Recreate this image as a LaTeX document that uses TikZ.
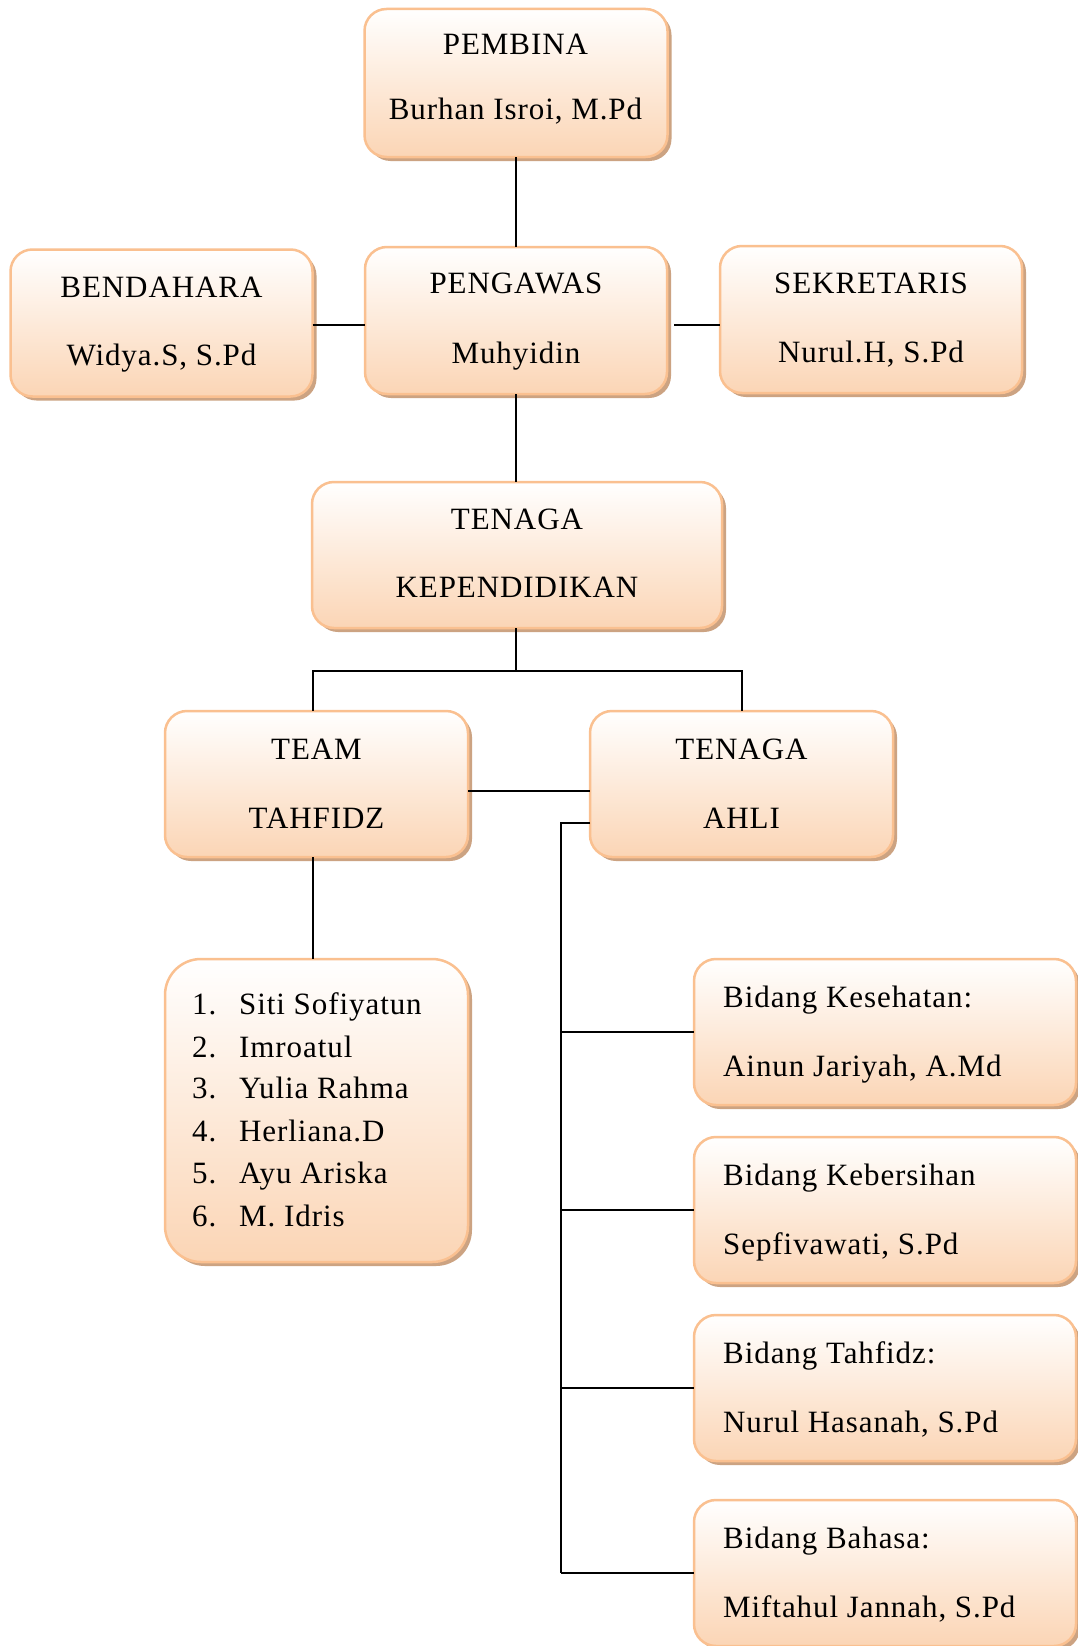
\documentclass[tikz,border=0pt]{standalone}
\usepackage{fontspec}
\setmainfont{Liberation Serif}[LetterSpace=3]
\usetikzlibrary{shadows}
\definecolor{peach}{RGB}{251,213,181}
\definecolor{bord}{RGB}{250,192,144}
\definecolor{shad}{RGB}{204,163,130}
\tikzset{
  orgbox/.style={draw=bord, line width=2.5pt, rounded corners=22pt,
    top color=white, bottom color=peach, inner sep=0pt, outer sep=0pt,
    minimum width=302pt, minimum height=147pt,
    drop shadow={shadow xshift=4pt, shadow yshift=-4pt, fill=shad, opacity=1}},
  txt/.style={inner sep=0pt, font=\fontsize{31}{36}\selectfont, anchor=base},
  ltxt/.style={txt, anchor=base west},
  conn/.style={line width=2pt, black}
}
\begin{document}
\begin{tikzpicture}[x=1pt, y=-1pt]
\useasboundingbox[fill=white] (0,0) rectangle (1078,1646);

% boxes
\node[orgbox, minimum width=303pt, minimum height=148pt] (pembina) at (516,83) {};
\node[orgbox] (pengawas) at (516,320.5) {};
\node[orgbox] (bendahara) at (161.5,323) {};
\node[orgbox] (sekretaris) at (871,319.5) {};
\node[orgbox, minimum width=410pt, minimum height=146pt] (tk) at (517,555) {};
\node[orgbox, minimum width=303pt, minimum height=146pt] (team) at (316.5,784) {};
\node[orgbox, minimum width=303pt, minimum height=146pt] (ahli) at (741.5,784) {};
\node[orgbox, minimum width=303pt, minimum height=303pt, rounded corners=36pt] (list) at (316.5,1110.5) {};
\node[orgbox, minimum width=382pt, minimum height=146pt] (b1) at (885,1032) {};
\node[orgbox, minimum width=382pt, minimum height=146pt] (b2) at (885,1210) {};
\node[orgbox, minimum width=382pt, minimum height=146pt] (b3) at (885,1388) {};
\node[orgbox, minimum width=382pt, minimum height=146pt] (b4) at (885,1573) {};

% texts
\node[txt] (t-pembina1) at (515.5,55) {PEMBINA};
\node[txt] (t-pembina2) at (515.5,119) {Burhan Isroi, M.Pd};
\node[txt] (t-pengawas1) at (516,293) {PENGAWAS};
\node[txt] (t-pengawas2) at (516,363) {Muhyidin};
\node[txt] (t-bendahara1) at (161.5,297) {BENDAHARA};
\node[txt] (t-bendahara2) at (161.5,365) {Widya.S, S.Pd};
\node[txt] (t-sekretaris1) at (871,293) {SEKRETARIS};
\node[txt] (t-sekretaris2) at (871,362) {Nurul.H, S.Pd};
\node[txt] (t-tk1) at (517,529) {TENAGA};
\node[txt] (t-tk2) at (517,597) {KEPENDIDIKAN};
\node[txt] (t-team1) at (316.5,759) {TEAM};
\node[txt] (t-team2) at (316.5,828) {TAHFIDZ};
\node[txt] (t-ahli1) at (741.5,759) {TENAGA};
\node[txt] (t-ahli2) at (741.5,828) {AHLI};

\node[ltxt] (n1) at (192,1014) {1.};
\node[ltxt] (n2) at (192,1057) {2.};
\node[ltxt] (n3) at (192,1098) {3.};
\node[ltxt] (n4) at (192,1141) {4.};
\node[ltxt] (n5) at (192,1183) {5.};
\node[ltxt] (n6) at (192,1226) {6.};
\node[ltxt] (m1) at (239,1014) {Siti Sofiyatun};
\node[ltxt] (m2) at (239,1057) {Imroatul};
\node[ltxt] (m3) at (239,1098) {Yulia Rahma};
\node[ltxt] (m4) at (239,1141) {Herliana.D};
\node[ltxt] (m5) at (239,1183) {Ayu Ariska};
\node[ltxt] (m6) at (239,1226) {M. Idris};

\node[ltxt] (t-b1a) at (723,1007) {Bidang Kesehatan:};
\node[ltxt] (t-b1b) at (723,1076) {Ainun Jariyah, A.Md};
\node[ltxt] (t-b2a) at (723,1185) {Bidang Kebersihan};
\node[ltxt] (t-b2b) at (723,1254) {Sepfivawati, S.Pd};
\node[ltxt] (t-b3a) at (723,1363) {Bidang Tahfidz:};
\node[ltxt] (t-b3b) at (723,1432) {Nurul Hasanah, S.Pd};
\node[ltxt] (t-b4a) at (723,1548) {Bidang Bahasa:};
\node[ltxt] (t-b4b) at (723,1617) {Miftahul Jannah, S.Pd};

% connectors
\coordinate (j) at (516,671);
\coordinate (bus) at (561,823);
\coordinate (lh) at (0,325);
\draw[conn] (pembina.south) -- (pembina.south |- pengawas.north);
\draw[conn] (bendahara.east |- lh) -- (pengawas.west |- lh);
\draw[conn] ([xshift=7pt]pengawas.east |- lh) -- (sekretaris.west |- lh);
\draw[conn] (pengawas.south) -- (pengawas.south |- tk.north);
\draw[conn] (j |- tk.south) -- (j);
\draw[conn] ([xshift=-4pt]team.north) |- (j) -| (ahli.north);
\draw[conn] ([yshift=-7pt]team.east) -- ([yshift=-7pt]ahli.west);
\draw[conn] ([xshift=-4pt]team.south) -- ([xshift=-4pt]list.north);
\draw[conn] (ahli.west |- bus) -- (bus) -- (bus |- b4.west);
\draw[conn] (bus |- b1.west) -- (b1.west);
\draw[conn] (bus |- b2.west) -- (b2.west);
\draw[conn] (bus |- b3.west) -- (b3.west);
\draw[conn] (bus |- b4.west) -- (b4.west);
\end{tikzpicture}
\end{document}
